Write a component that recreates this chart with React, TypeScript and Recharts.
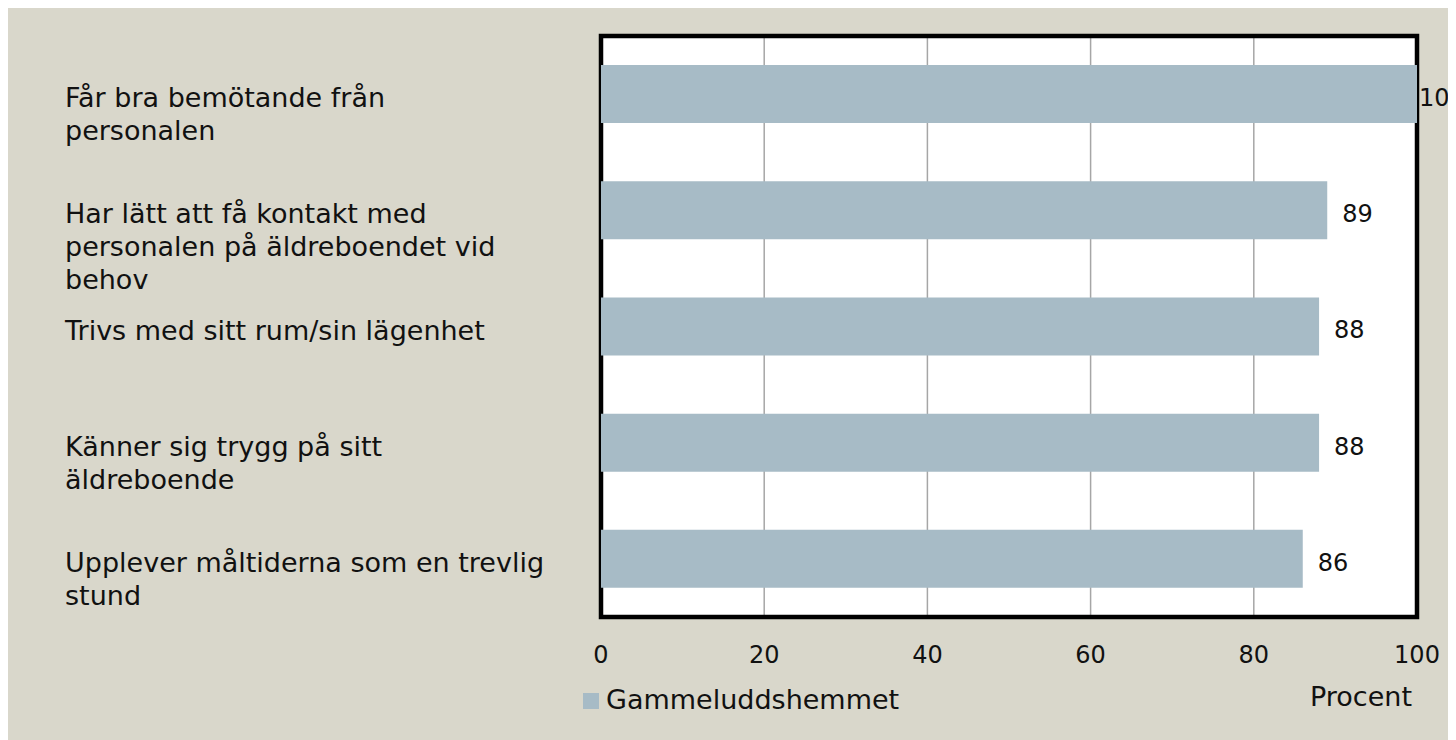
import {
  BarChart, Bar, XAxis, YAxis, CartesianGrid, ReferenceArea, LabelList, Legend,
} from 'recharts'

// ── Data ─────────────────────────────────────────────────────────────────────
const CATEGORIES = [
  'Får bra bemötande från\npersonalen',
  'Har lätt att få kontakt med\npersonalen på äldreboendet vid\nbehov',
  'Trivs med sitt rum/sin lägenhet',
  'Känner sig trygg på sitt\näldreboende',
  'Upplever måltiderna som en trevlig\nstund',
]
const VALUES = [100, 89, 88, 88, 86]
const X_TICKS = [0, 20, 40, 60, 80, 100]
const SERIES_NAME = 'Gammeluddshemmet'
const AXIS_TITLE = 'Procent'

// ── Styles ───────────────────────────────────────────────────────────────────
const FONT = '"DejaVu Sans", sans-serif'
const BG = '#d9d7cb'
const BAR = '#a7bbc6'
const INK = '#111'

const data = CATEGORIES.map((name, i) => ({ name, value: VALUES[i] }))

// eslint-disable-next-line @typescript-eslint/no-explicit-any
function CategoryTick(props: any) {
  const { y, payload } = props
  const lines = String(payload.value).split('\n')
  return (
    <text x={57} y={y + 13} fill={INK} fontSize={27} fontFamily={FONT} textAnchor="start">
      {lines.map((l, i) => (
        <tspan key={i} x={57} dy={i === 0 ? 0 : 33}>{l}</tspan>
      ))}
    </text>
  )
}

// eslint-disable-next-line @typescript-eslint/no-explicit-any
function ValueLabel(props: any) {
  const { x, y, width, height, value } = props
  const gap = value >= 100 ? 2 : 15
  return (
    <text
      x={x + width + gap} y={y + height / 2 + 5}
      fill={INK} fontSize={24} fontFamily={FONT}
      dominantBaseline="middle" textAnchor="start"
    >
      {value}
    </text>
  )
}

// eslint-disable-next-line @typescript-eslint/no-explicit-any
function AxisTitle(props: any) {
  const { viewBox } = props
  return (
    <text
      x={viewBox.x + viewBox.width - 5} y={viewBox.y + 89}
      fill={INK} fontSize={27} fontFamily={FONT} textAnchor="end"
    >
      {AXIS_TITLE}
    </text>
  )
}

function LegendBox() {
  return (
    <div style={{ display: 'flex', alignItems: 'flex-end', fontFamily: FONT, fontSize: 27, color: INK }}>
      <span style={{ width: 16, height: 16, background: BAR, marginRight: 7, marginBottom: 6 }} />
      <span style={{ lineHeight: '30px' }}>{SERIES_NAME}</span>
    </div>
  )
}

export default function App() {
  return (
    <div style={{ width: 1448, height: 732, background: BG }}>
      <BarChart
        width={1448}
        height={732}
        data={data}
        layout="vertical"
        margin={{ top: 28, right: 39, bottom: 23, left: 0 }}
        barCategoryGap="25%"
      >
        <CartesianGrid horizontal={false} stroke="#a6a6a6" strokeWidth={1.5} fill="#fff" fillOpacity={1} />
        <XAxis
          type="number"
          domain={[0, 100]}
          ticks={X_TICKS}
          interval={0}
          tickLine={false}
          tickSize={0}
          tickMargin={29}
          axisLine={false}
          height={100}
          tick={{ fill: INK, fontSize: 24, fontFamily: FONT }}
          label={<AxisTitle />}
        />
        <YAxis
          type="category"
          dataKey="name"
          width={593}
          axisLine={false}
          tickLine={false}
          tick={<CategoryTick />}
          interval={0}
        />
        <Legend
          layout="horizontal"
          verticalAlign="middle"
          align="center"
          content={<LegendBox />}
          wrapperStyle={{ left: 575, top: 677, width: 400, height: 34 }}
        />
        <Bar dataKey="value" name={SERIES_NAME} fill={BAR} isAnimationActive={false}>
          <LabelList dataKey="value" content={<ValueLabel />} />
        </Bar>
        <ReferenceArea x1={0} x2={100} fill="none" stroke="#000" strokeWidth={4.5} ifOverflow="visible" />
      </BarChart>
    </div>
  )
}
